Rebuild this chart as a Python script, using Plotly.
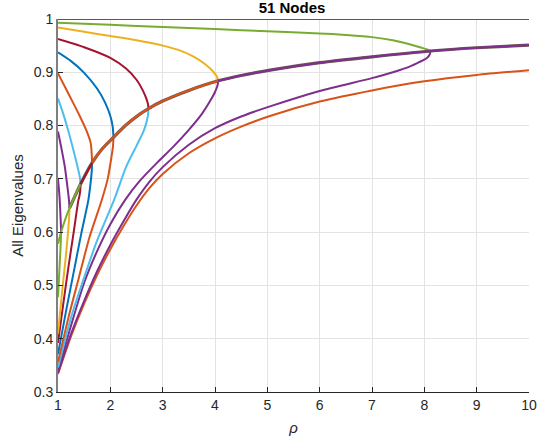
import plotly.graph_objects as go

# MATLAB default line colours
BLUE = "#0072BD"
ORANGE = "#D95319"
YELLOW = "#EDB120"
PURPLE = "#7E2F8E"
GREEN = "#77AC30"
LBLUE = "#4DBEEE"
DRED = "#A2142F"

# Magnitude of the merged (complex) eigenvalue pairs
env_rho = [1.0, 1.05, 1.1, 1.22, 1.43, 1.65, 1.85, 2.06, 2.3, 2.57, 2.73,
           3.0, 3.5, 4.06, 4.5, 5.05, 6.0, 7.0, 8.12, 9.0, 10.0]
env_lam = [0.578, 0.597, 0.613, 0.645, 0.690, 0.730, 0.757, 0.778, 0.801,
           0.822, 0.832, 0.846, 0.866, 0.884, 0.894, 0.904, 0.918, 0.929,
           0.940, 0.946, 0.951]

# Trivial eigenvalue
top_rho = [1.0, 10.0]
top_lam = [1.0, 1.0]

# Upper real branches (from rho = 1 down to the merge point)
upA_rho = [1, 2, 3, 4, 5, 6, 6.5, 7, 7.4, 7.7, 7.95, 8.08, 8.12]
upA_lam = [0.993, 0.989, 0.985, 0.981, 0.977, 0.973, 0.970, 0.966, 0.960, 0.953, 0.946, 0.942, 0.940]
upB_rho = [1, 1.5, 2, 2.5, 3, 3.3, 3.6, 3.8, 3.95, 4.03, 4.06]
upB_lam = [0.984, 0.976, 0.968, 0.960, 0.950, 0.942, 0.929, 0.916, 0.903, 0.893, 0.884]
upC_rho = [1, 1.5, 2, 2.3, 2.5, 2.62, 2.69, 2.72, 2.73]
upC_lam = [0.9625, 0.947, 0.927, 0.907, 0.886, 0.866, 0.850, 0.840, 0.832]
upD_rho = [1, 1.25, 1.5, 1.75, 1.9, 2.0, 2.045, 2.06]
upD_lam = [0.9375, 0.921, 0.899, 0.869, 0.843, 0.818, 0.798, 0.778]
upE_rho = [1, 1.23, 1.42, 1.55, 1.625, 1.645, 1.65]
upE_lam = [0.898, 0.854, 0.817, 0.789, 0.767, 0.745, 0.730]
upF_rho = [1, 1.1, 1.2, 1.3, 1.38, 1.42, 1.43]
upF_lam = [0.851, 0.822, 0.789, 0.752, 0.720, 0.702, 0.690]
upG_rho = [1, 1.06, 1.13, 1.18, 1.21, 1.22]
upG_lam = [0.789, 0.760, 0.723, 0.685, 0.660, 0.645]
upH_rho = [1, 1.03, 1.05, 1.06]
upH_lam = [0.700, 0.665, 0.625, 0.600]

# Lower real branches (from the merge point back to rho = 1)
loA_rho = [8.12, 8.10, 8.05, 7.9, 7.73, 7.4, 7.0, 6.0, 5.05, 4.5, 4.0, 3.5, 3.0,
           2.75, 2.5, 2.25, 2.0, 1.75, 1.5, 1.25, 1.0]
loA_lam = [0.940, 0.933, 0.927, 0.919, 0.911, 0.900, 0.889, 0.865, 0.836, 0.817,
           0.795, 0.764, 0.722, 0.695, 0.661, 0.620, 0.576, 0.527, 0.471, 0.409, 0.336]
loB_rho = [4.06, 4.05, 4.0, 3.9, 3.75, 3.5, 3.2, 2.9, 2.57, 2.28, 2.0, 1.75, 1.5, 1.25, 1.0]
loB_lam = [0.884, 0.876, 0.863, 0.845, 0.822, 0.792, 0.760, 0.731, 0.697, 0.660,
           0.615, 0.565, 0.505, 0.425, 0.339]
loC_rho = [2.73, 2.72, 2.69, 2.63, 2.5, 2.3, 2.07, 1.75, 1.5, 1.25, 1.0]
loC_lam = [0.832, 0.820, 0.806, 0.788, 0.762, 0.722, 0.660, 0.585, 0.515, 0.440, 0.346]
loD_rho = [2.06, 2.05, 2.02, 1.95, 1.835, 1.6, 1.4, 1.2, 1.0]
loD_lam = [0.778, 0.760, 0.740, 0.700, 0.660, 0.590, 0.515, 0.440, 0.356]
loE_rho = [1.65, 1.645, 1.62, 1.58, 1.45, 1.3, 1.15, 1.0]
loE_lam = [0.730, 0.715, 0.690, 0.660, 0.600, 0.525, 0.450, 0.371]
loF_rho = [1.43, 1.425, 1.41, 1.39, 1.3, 1.2, 1.1, 1.0]
loF_lam = [0.690, 0.678, 0.668, 0.660, 0.600, 0.535, 0.465, 0.392]
loG_rho = [1.22, 1.215, 1.2, 1.15, 1.08, 1.0]
loG_lam = [0.645, 0.632, 0.610, 0.555, 0.490, 0.410]
loH_rho = [1.06, 1.05, 1.03, 1.0]
loH_lam = [0.600, 0.575, 0.535, 0.478]

# Partner of the trivial eigenvalue (never merges on this range)
bot_rho = [1.0, 1.25, 1.5, 1.75, 2.0, 2.25, 2.5, 2.75, 3.0, 3.5, 4.0, 4.5, 5.05,
           6.0, 7.0, 8.0, 9.0, 10.0]
bot_lam = [0.334, 0.405, 0.466, 0.520, 0.568, 0.611, 0.650, 0.683, 0.709, 0.748,
           0.776, 0.798, 0.818, 0.845, 0.866, 0.883, 0.895, 0.904]

fig = go.Figure()


def add(x, y, color, width=2.0):
    fig.add_trace(go.Scatter(
        x=x, y=y, mode="lines",
        line=dict(color=color, width=width, shape="spline", smoothing=0.7),
        hoverinfo="skip", showlegend=False, cliponaxis=True))


def env_slice(lo, hi):
    xs, ys = [], []
    for r, v in zip(env_rho, env_lam):
        if lo <= r <= hi:
            xs.append(r)
            ys.append(v)
    return xs, ys


# lower branches
add(bot_rho, bot_lam, ORANGE)
add(loA_rho, loA_lam, PURPLE)
add(loB_rho, loB_lam, PURPLE)
add(loC_rho, loC_lam, LBLUE)
add(loD_rho, loD_lam, ORANGE)
add(loE_rho, loE_lam, BLUE)
add(loF_rho, loF_lam, DRED)
add(loG_rho, loG_lam, YELLOW)
add(loH_rho, loH_lam, GREEN)

# upper branches
add(upA_rho, upA_lam, GREEN)
add(upB_rho, upB_lam, YELLOW)
add(upC_rho, upC_lam, DRED)
add(upD_rho, upD_lam, BLUE)
add(upE_rho, upE_lam, ORANGE)
add(upF_rho, upF_lam, LBLUE)
add(upG_rho, upG_lam, PURPLE)
add(upH_rho, upH_lam, PURPLE)

# merged magnitude, several eigenvalues drawn on top of each other
x, y = env_slice(1.22, 10.0)
add(x, y, "#6E5A50", 3.2)
x, y = env_slice(1.0, 1.43)
add(x, y, GREEN)
x, y = env_slice(1.43, 1.65)
add(x, y, DRED)
x, y = env_slice(1.65, 4.06)
add(x, y, ORANGE)
x, y = env_slice(4.06, 10.0)
add(x, y, PURPLE)

add(top_rho, top_lam, BLUE)

axis_col = "#262626"
fig.update_layout(
    width=553, height=446,
    margin=dict(l=58, r=24, t=19, b=54),
    paper_bgcolor="white", plot_bgcolor="white",
    font=dict(family="Liberation Sans, Arial, sans-serif", size=14, color=axis_col),
    title=dict(text="<b>51 Nodes</b>", x=0.528, xanchor="center", xref="container",
               y=0.994, yanchor="top", yref="container", pad=dict(t=0, b=0),
               font=dict(size=15, color="#000000")),
    xaxis=dict(range=[1, 10], tickmode="array", tickvals=list(range(1, 11)),
               ticktext=[str(v) for v in range(1, 11)],
               showgrid=True, gridcolor="#E3E3E3", gridwidth=1,
               showline=True, linecolor=axis_col, linewidth=1,
               ticks="inside", ticklen=5, tickcolor=axis_col,
               zeroline=False, title=dict(text="<i>ρ</i>", standoff=10,
                                          font=dict(size=15))),
    yaxis=dict(range=[0.3, 1.0], tickmode="array",
               tickvals=[0.3, 0.4, 0.5, 0.6, 0.7, 0.8, 0.9, 1.0],
               ticktext=["0.3", "0.4", "0.5", "0.6", "0.7", "0.8", "0.9", "1"],
               showgrid=True, gridcolor="#E3E3E3", gridwidth=1,
               showline=True, linecolor="#7F7F7F", linewidth=2,
               ticks="inside", ticklen=5, tickcolor=axis_col,
               zeroline=False, title=dict(text="All Eigenvalues", standoff=6,
                                          font=dict(size=15))),
)

fig.write_html("out.html")
